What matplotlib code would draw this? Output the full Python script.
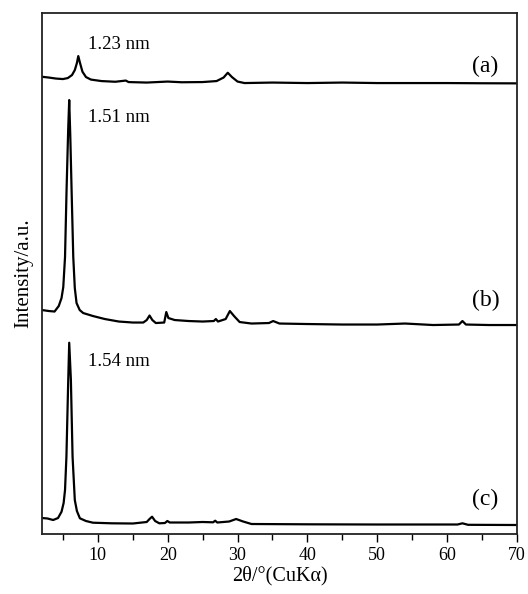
import matplotlib
matplotlib.use("Agg")
from matplotlib import pyplot as plt
from matplotlib.ticker import MultipleLocator

plt.rcParams['font.family'] = ['Liberation Serif', 'DejaVu Serif']

# XRD traces, already stacked (arbitrary intensity units)
two_theta_a = [2.0, 3.0, 4.0, 5.0, 5.7, 6.3, 6.7, 7.0, 7.2, 7.45, 7.8, 8.3, 9.0,
               10.5, 12.5, 14.0, 14.4, 17.0, 20.0, 22.0, 25.0, 27.0, 28.0, 28.6,
               29.2, 30.0, 31.0, 35.0, 40.0, 45.0, 50.0, 55.0, 60.0, 65.0, 70.0]
intensity_a = [457.3, 456.5, 455.5, 455.0, 456.0, 459.0, 464.0, 471.0, 478.0, 471.0,
               462.3, 457.0, 454.5, 453.0, 452.3, 453.5, 452.0, 451.5, 452.5, 451.8,
               452.0, 453.0, 456.5, 461.3, 457.0, 452.5, 451.0, 451.5, 451.0, 451.5,
               451.0, 451.0, 451.0, 450.8, 450.7]

two_theta_b = [2.0, 3.0, 3.8, 4.4, 4.8, 5.05, 5.3, 5.52, 5.75, 5.9, 6.05, 6.24,
               6.48, 6.7, 6.95, 7.4, 7.9, 9.3, 11.0, 13.0, 15.0, 16.5, 17.0, 17.4,
               17.8, 18.3, 19.5, 19.8, 20.1, 21.0, 23.0, 25.0, 26.6, 26.9, 27.2,
               28.3, 28.9, 29.5, 30.3, 32.0, 34.5, 35.1, 36.0, 40.0, 45.0, 50.0,
               54.0, 58.0, 61.7, 62.2, 62.7, 66.0, 70.0]
intensity_b = [224.0, 223.0, 222.5, 228.0, 236.0, 247.0, 277.0, 344.0, 404.0, 434.0,
               399.0, 344.0, 277.0, 246.0, 231.0, 224.0, 221.0, 218.0, 215.0, 212.5,
               211.5, 211.5, 214.0, 218.5, 214.0, 211.0, 211.5, 222.0, 216.0, 214.0,
               213.0, 212.5, 213.0, 215.0, 212.5, 215.0, 223.0, 218.0, 212.0, 210.5,
               211.0, 213.0, 210.5, 210.0, 209.5, 209.5, 210.5, 209.0, 209.5, 213.0,
               209.5, 209.0, 209.0]

two_theta_c = [2.0, 2.8, 3.6, 4.3, 4.8, 5.1, 5.3, 5.5, 5.76, 5.9, 6.14, 6.38, 6.7,
               7.0, 7.43, 8.3, 9.3, 12.0, 15.0, 17.0, 17.4, 17.76, 18.2, 18.8, 19.6,
               19.95, 20.3, 23.0, 25.0, 26.5, 26.8, 27.1, 28.8, 29.8, 30.8, 32.0,
               40.0, 50.0, 61.5, 62.2, 63.0, 70.0]
intensity_c = [16.0, 15.5, 14.0, 16.0, 22.3, 31.0, 44.0, 77.3, 154.0, 191.3, 154.0,
               77.3, 34.0, 23.0, 15.7, 13.0, 11.3, 10.7, 10.5, 12.0, 15.0, 17.3, 13.0,
               10.7, 11.0, 13.0, 11.5, 11.5, 12.0, 11.7, 13.3, 11.5, 12.5, 15.0, 12.5,
               10.0, 9.7, 9.5, 9.5, 10.7, 9.2, 9.0]

trace_names = ['(a)', '(b)', '(c)']
d_spacing_labels = ['1.23 nm', '1.51 nm', '1.54 nm']
x_ticks = [10, 20, 30, 40, 50, 60, 70]

fig = plt.figure(figsize=(5.28, 5.94), dpi=100)
ax = fig.add_axes([0.0795, 0.101, 0.8995, 0.877])

for tt, inten in [(two_theta_a, intensity_a), (two_theta_b, intensity_b),
                  (two_theta_c, intensity_c)]:
    ax.plot(tt, inten, color='black', lw=1.6, solid_joinstyle='round')

# d-spacing labels next to the basal reflections
for label, y in zip(d_spacing_labels, [489.5, 416.5, 173.0]):
    ax.text(8.6, y, label, fontsize=13.5, ha='left', va='center')

# sample names on the right
for name, y in zip(trace_names, [468.0, 234.0, 35.0]):
    ax.text(65.5, y, name, fontsize=17, ha='center', va='center')

ax.set_xlim(2, 70)
ax.set_ylim(0, 521)
ax.set_xticks(x_ticks)
ax.xaxis.set_minor_locator(MultipleLocator(5))
ax.set_yticks([])
ax.tick_params(axis='x', which='major', direction='out', length=6, width=1.0,
               labelsize=13, pad=3, top=False)
ax.tick_params(axis='x', which='minor', direction='out', length=4, width=1.0, top=False)
for spine in ax.spines.values():
    spine.set_linewidth(1.3)
    spine.set_color('#222222')

ax.set_xlabel('2θ/°(CuKα)', fontsize=14.5, labelpad=2)
ax.set_ylabel('Intensity/a.u.', fontsize=15, labelpad=6)

fig.savefig('out.png', dpi=100)
